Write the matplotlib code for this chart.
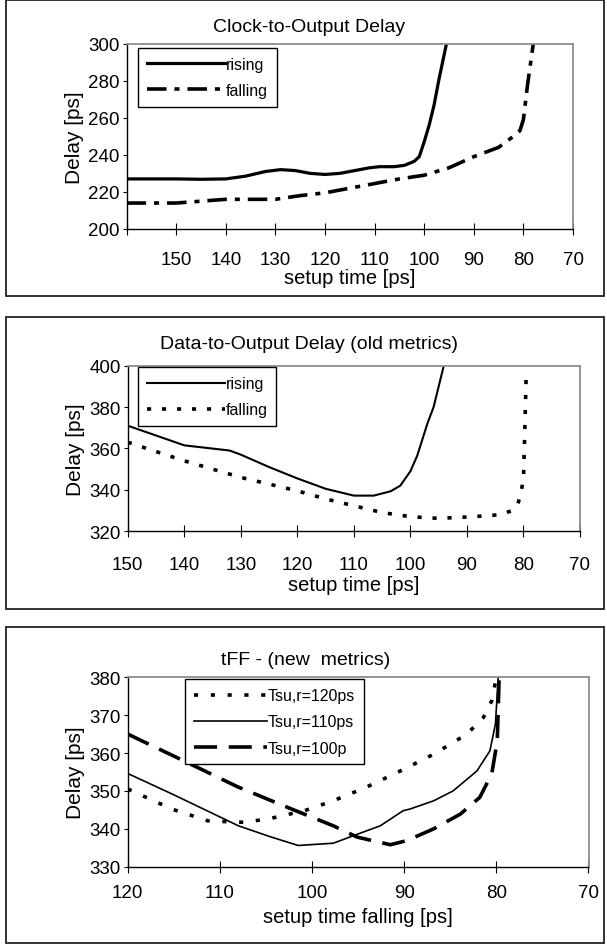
import numpy as np
import matplotlib
matplotlib.use('Agg')
import matplotlib.pyplot as plt
from matplotlib.patches import Rectangle

plt.rcParams['font.family'] = ['Liberation Sans', 'DejaVu Sans']

# panel 1 - clock-to-output delay
clk_rise_x = [160, 150, 145, 140, 136, 132, 129, 126, 123, 120, 117, 114, 111, 109, 106, 104,
              102, 101, 100, 99, 98, 97, 95.5]
clk_rise_y = [227, 227, 226.8, 227, 228.5, 231, 232, 231.5, 230, 229.4, 230, 231.5, 233, 233.6,
              233.6, 234.3, 236.5, 239, 247, 256, 267, 281, 300]
clk_fall_x = [160, 150, 140, 130, 125, 120, 115, 110, 105, 100, 95, 90, 85, 82, 80.7, 80, 79.2, 78]
clk_fall_y = [214, 214, 216, 216, 218, 219.5, 222, 224.5, 227, 229, 233, 239, 244, 250, 253,
              259, 277, 300]

# panel 2 - data-to-output delay (old metrics)
d2o_rise_x = [150, 140, 132, 130, 125, 120, 115, 110, 106.5, 103.5, 101.8, 100, 98.8, 97,
              95.9, 94.1]
d2o_rise_y = [371, 361.5, 359, 357, 351, 345.5, 340.5, 337.2, 337.2, 339.3, 342, 349, 356.5,
              372, 380, 400]
d2o_fall_x = [150, 140, 130, 120, 115, 110, 105, 100, 95, 89, 84, 82, 81, 80.5, 80, 79.8, 79.5]
d2o_fall_y = [363, 354, 346, 339.5, 335.6, 332.3, 329, 327, 326.2, 327, 328, 330, 333, 338, 345,
              365, 398]

# panel 3 - tFF (new metrics)
tff_x120 = [120, 115.2, 111.3, 107.3, 104.4, 100.8, 97.7, 94.1, 90.4, 86.8, 83.2, 81.4, 80.5, 80]
tff_y120 = [350.5, 345.2, 342.1, 341.7, 342.8, 344.8, 347.4, 351, 355.3, 359.7, 365, 369.4,
            373.8, 380]
tff_x110 = [120, 115.2, 108, 104.4, 101.5, 97.7, 95.5, 92.6, 90.1, 89.4, 86.8, 84.7, 82.1, 80.7,
            80.1, 79.8]
tff_y110 = [354.6, 349.2, 340.8, 337.8, 335.6, 336.2, 338.2, 340.8, 344.8, 345.2, 347.4, 350,
            355.3, 360.6, 367.7, 380]
tff_x100 = [120, 113.8, 108, 102.2, 97.7, 95.1, 91.5, 89.7, 86.8, 83.9, 81.8, 80.5, 79.9, 79.7]
tff_y100 = [365, 357.8, 351, 345.2, 340.8, 337.8, 335.8, 336.9, 340, 343.9, 348.3, 354.5, 363.2,
            380]

W, H = 607, 945
fig = plt.figure(figsize=(W / 100, H / 100), dpi=100)


def px_axes(l, t, r, b):
    return fig.add_axes([l / W, 1 - b / H, (r - l) / W, (b - t) / H])


def frame(t, b):
    fig.patches.append(Rectangle((6 / W, 1 - b / H), 598 / W, (b - t) / H,
                                 transform=fig.transFigure, fill=False,
                                 edgecolor='#222222', linewidth=1.3))


def style(ax, xlim, ylim, xticks, yticks, xlabels, title, title_x, title_pad, xlabel, xpad, lpad):
    ax.set_xlim(*xlim)
    ax.set_ylim(*ylim)
    ax.set_xticks(xticks)
    ax.set_xticklabels(xlabels)
    ax.set_yticks(yticks)
    for s in ['top', 'right']:
        ax.spines[s].set_color('#8c8c8c')
        ax.spines[s].set_linewidth(1.3)
    for s in ['left', 'bottom']:
        ax.spines[s].set_color('black')
        ax.spines[s].set_linewidth(1.0)
    ax.tick_params(axis='x', direction='inout', length=9, pad=xpad, labelsize=13.5)
    ax.tick_params(axis='y', direction='out', length=3, pad=2, labelsize=13.5)
    ax.set_ylabel('Delay [ps]', fontsize=15, labelpad=3)
    ax.set_xlabel(xlabel, fontsize=14.5, labelpad=lpad)
    ax.set_title(title, fontsize=14, x=title_x, pad=title_pad)


def add_legend(ax, x0, top, fs, hl):
    leg = ax.legend(loc='upper left', bbox_to_anchor=(x0, top), fontsize=fs,
                    handlelength=hl, handletextpad=0.05, labelspacing=0.7,
                    fancybox=False, framealpha=1, edgecolor='black', borderaxespad=0,
                    borderpad=0.55)
    leg.get_frame().set_linewidth(1.0)


# ---- panel 1
frame(1, 297)
ax1 = px_axes(126.6, 44.5, 573, 230)
ax1.plot(clk_rise_x, clk_rise_y, color='black', lw=2.3, label='rising')
ax1.plot(clk_fall_x, clk_fall_y, color='black', lw=2.6, ls=(0, (5.4, 2.2, 1.4, 2.2)),
         label='falling')
style(ax1, (160, 70), (200, 300), np.arange(160, 69, -10), np.arange(200, 301, 20),
      [''] + [str(v) for v in range(150, 69, -10)], 'Clock-to-Output Delay', 0.408, 9,
      'setup time [ps]', 11, 0)
add_legend(ax1, 0.026, 0.976, 11.5, 4.9)

# ---- panel 2
frame(318, 610)
ax2 = px_axes(127.8, 366.7, 580, 532.2)
ax2.plot(d2o_rise_x, d2o_rise_y, color='black', lw=1.5, label='rising')
ax2.plot(d2o_fall_x, d2o_fall_y, color='black', lw=2.6, ls=(0, (1.15, 3.0)), label='falling')
style(ax2, (150, 70), (320, 400), np.arange(150, 69, -10), np.arange(320, 401, 20),
      [str(v) for v in range(150, 69, -10)], 'Data-to-Output Delay (old metrics)', 0.40, 13,
      'setup time [ps]', 13, 2)
add_legend(ax2, 0.022, 0.990, 11.5, 4.9)

# ---- panel 3
frame(628, 944)
ax3 = px_axes(127.8, 678.3, 588.5, 867.7)
ax3.plot(tff_x120, tff_y120, color='black', lw=2.6, ls=(0, (1.15, 3.5)), label='Tsu,r=120ps')
ax3.plot(tff_x110, tff_y110, color='black', lw=1.2, label='Tsu,r=110ps')
ax3.plot(tff_x100, tff_y100, color='black', lw=2.6, ls=(0, (6.4, 3.2)), label='Tsu,r=100p')
style(ax3, (120, 70), (330, 380), np.arange(120, 69, -10), np.arange(330, 381, 10),
      [str(v) for v in range(120, 69, -10)], 'tFF - (new  metrics)', 0.386, 9.5,
      'setup time falling [ps]', 8, 4)
add_legend(ax3, 0.124, 0.989, 11.5, 4.6)

fig.savefig('out.png', dpi=100)
